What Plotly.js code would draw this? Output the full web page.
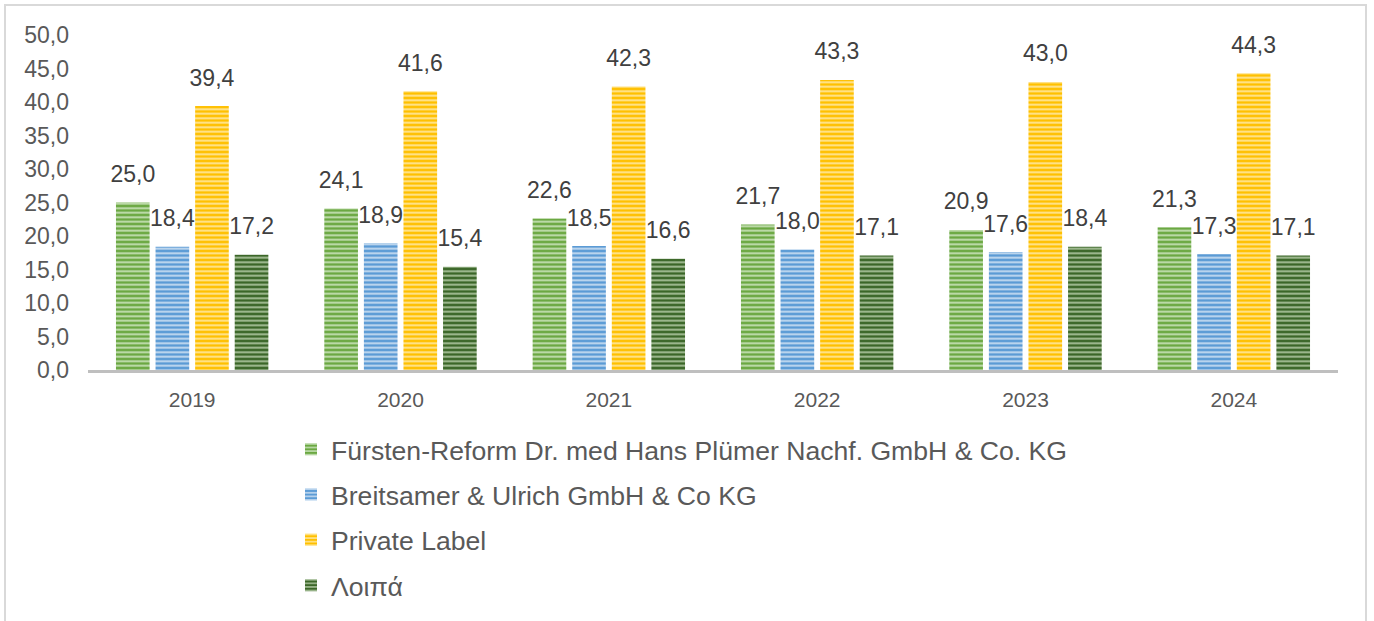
<!DOCTYPE html>
<html>
<head>
<meta charset="utf-8">
<script src="https://cdn.plot.ly/plotly-3.0.1.min.js"></script>
<style>html,body{margin:0;padding:0;background:#fff;}#chart{width:1374px;height:621px;}</style>
</head>
<body>
<div id="chart"></div>
<script>
const years = ["2019", "2020", "2021", "2022", "2023", "2024"];
const seriesNames = [
  "Fürsten-Reform Dr. med Hans Plümer Nachf. GmbH & Co. KG",
  "Breitsamer & Ulrich GmbH & Co KG",
  "Private Label",
  "Λοιπά"
];
const fuersten = [25.0, 24.1, 22.6, 21.7, 20.9, 21.3];
const breitsamer = [18.4, 18.9, 18.5, 18.0, 17.6, 17.3];
const privateLabel = [39.4, 41.6, 42.3, 43.3, 43.0, 44.3];
const loipa = [17.2, 15.4, 16.6, 17.1, 18.4, 17.1];
const yTicks = [0, 5, 10, 15, 20, 25, 30, 35, 40, 45, 50];

const values = [fuersten, breitsamer, privateLabel, loipa];
const colors = ["#6BA842", "#5B9BD5", "#FFC000", "#3B6628"];
const stripe = ["#C5E0B4", "#C6DCF1", "#FFE699", "#A9C29A"];

const barTraces = values.map((v, i) => ({
  type: "bar",
  name: seriesNames[i],
  x: years,
  y: v,
  legendgroup: "g" + i,
  marker: {
    color: colors[i],
    line: {width: 0},
    pattern: {shape: "-", size: 4.5, solidity: 0.42, fgcolor: stripe[i], bgcolor: colors[i], fillmode: "replace"}
  },
  hoverinfo: "skip"
}));

// data labels: invisible markers at the bar tops, grouped like the bars
const labelTraces = values.map((v, i) => ({
  type: "scatter",
  mode: "markers+text",
  x: years,
  y: v,
  showlegend: false,
  marker: {size: 22, opacity: 0, color: colors[i]},
  texttemplate: "%{y:.1f}",
  textposition: "top center",
  cliponaxis: false,
  textfont: {family: "Liberation Sans, Arial, sans-serif", size: 23, color: "#404040"},
  hoverinfo: "skip"
}));

const layout = {
  width: 1374,
  height: 621,
  separators: ",.",
  margin: {l: 88, r: 36, t: 35, b: 251},
  paper_bgcolor: "#ffffff",
  plot_bgcolor: "#ffffff",
  barmode: "group",
  bargap: 0.24,
  bargroupgap: 0.15,
  scattermode: "group",
  scattergap: 0.24,
  font: {family: "Liberation Sans, Arial, sans-serif", size: 22, color: "#595959"},
  xaxis: {
    type: "category",
    showline: true,
    linecolor: "#BFBFBF",
    linewidth: 3,
    showgrid: false,
    zeroline: false,
    ticks: "",
    tickfont: {size: 21, color: "#595959"},
    ticklabelstandoff: 9
  },
  yaxis: {
    range: [0, 50],
    tickvals: yTicks,
    tickformat: ".1f",
    showgrid: false,
    zeroline: false,
    showline: false,
    ticks: "",
    ticklabelstandoff: 18,
    tickfont: {size: 23, color: "#595959"}
  },
  showlegend: true,
  legend: {
    orientation: "v",
    x: 0.1624,
    xanchor: "left",
    y: -0.1657,
    yanchor: "top",
    tracegroupgap: 7.7,
    font: {size: 26.6, color: "#595959"},
    bgcolor: "rgba(0,0,0,0)"
  },
  shapes: [{
    type: "rect",
    xref: "paper", yref: "paper",
    x0: -0.0664, x1: 1.0224,
    y0: -0.85, y1: 1.0896,
    line: {color: "#D9D9D9", width: 2},
    fillcolor: "rgba(0,0,0,0)",
    layer: "below"
  }]
};

Plotly.newPlot("chart", barTraces.concat(labelTraces), layout, {displayModeBar: false, staticPlot: true});
</script>
</body>
</html>
